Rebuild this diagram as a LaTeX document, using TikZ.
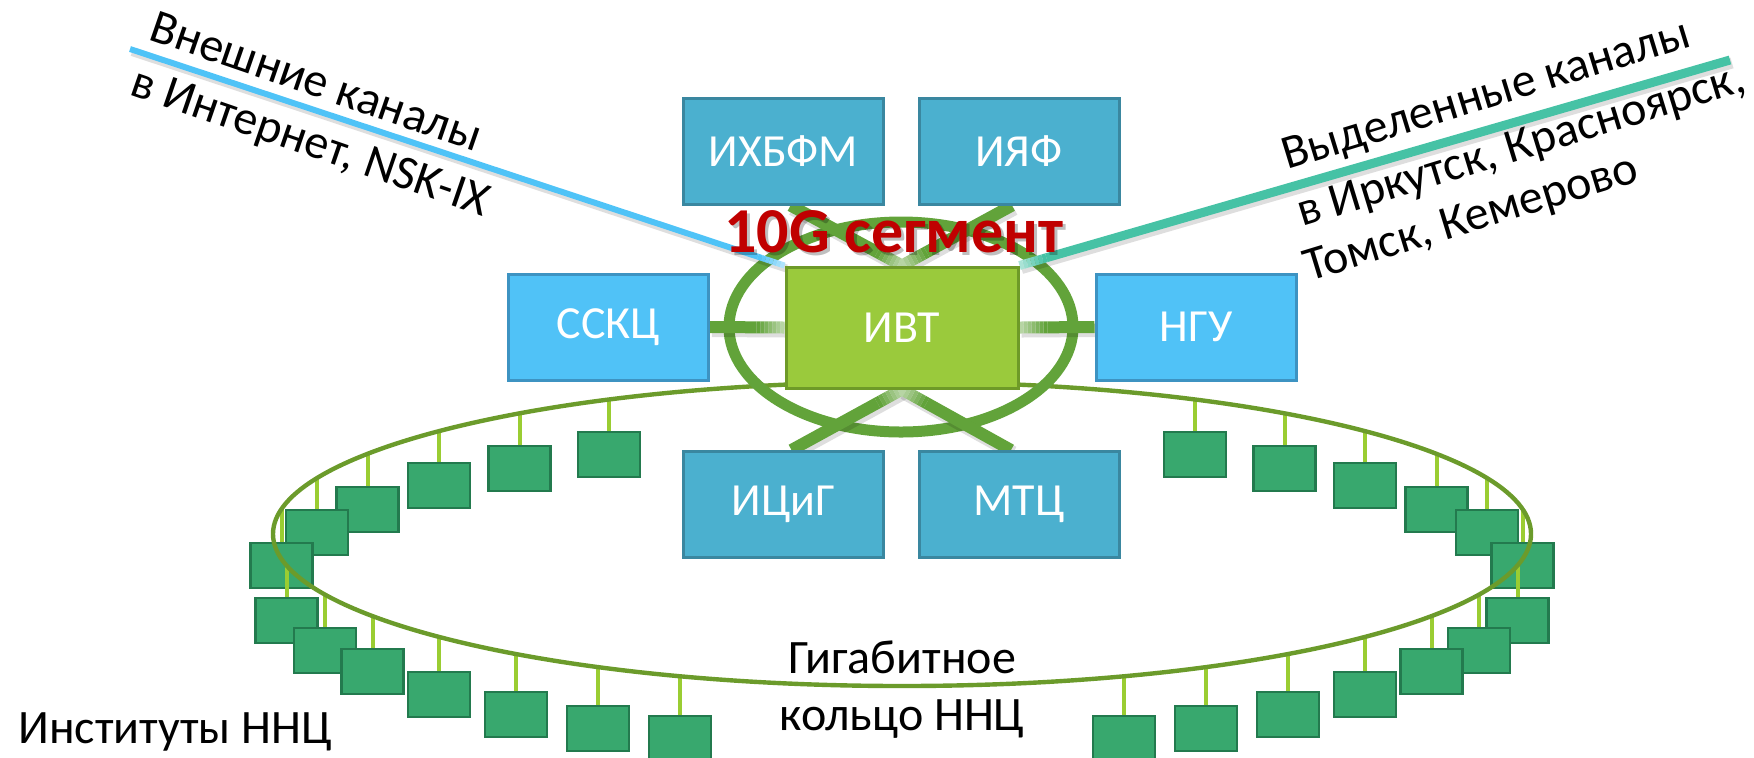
\documentclass[tikz,border=0pt]{standalone}
\usepackage{fontspec}
\setmainfont{Carlito}
\usetikzlibrary{calc}
\definecolor{boxblue}{HTML}{4BB0CF}
\definecolor{boxblueborder}{HTML}{3A87A0}
\definecolor{skyblue}{HTML}{50C2F7}
\definecolor{skyborder}{HTML}{3D93C2}
\definecolor{ivtfill}{HTML}{9ACA3C}
\definecolor{ivtborder}{HTML}{6E9A28}
\definecolor{ringgreen}{HTML}{62A33A}
\definecolor{olivering}{HTML}{6B9B2B}
\definecolor{instfill}{HTML}{38A86E}
\definecolor{instborder}{HTML}{237A4E}
\definecolor{stemgreen}{HTML}{9ACD32}
\definecolor{extblue}{HTML}{4FC3F7}
\definecolor{extteal}{HTML}{46C2A5}
\definecolor{segred}{HTML}{C00000}
\pgfdeclarelayer{back}
\pgfdeclarelayer{mid}
\pgfsetlayers{back,mid,main}
\newcommand{\fadeconn}[4]{%
  \draw[black, opacity=0.13, line width=#4+1pt] ($(#1)+(2,3)$) -- ($(#2)+(2,3)$);
  \draw[#3, line width=#4] (#1) -- ($(#2)!14pt!(#1)$);
  \foreach \k in {0,...,6}{
    \pgfmathsetmacro\da{14*(1-\k/7)}
    \pgfmathsetmacro\db{14*(1-(\k+1)/7)}
    \pgfmathtruncatemacro\mix{100-\k*9}
    \draw[#3!\mix!white, line width=#4] ($(#2)!\da pt!(#1)$) -- ($(#2)!\db pt!(#1)$);
  }
}
\begin{document}
\begin{tikzpicture}[x=0.5pt,y=-0.5pt,
  boxlabel/.style={text=white, font=\fontsize{23}{28}\selectfont},
  bluebox/.style={boxlabel, draw=boxblueborder, fill=boxblue, line width=1.5pt,
    minimum width=100pt, minimum height=53pt, inner sep=0pt},
  skybox/.style={boxlabel, draw=skyborder, fill=skyblue, line width=1.5pt,
    minimum width=100pt, minimum height=53pt, inner sep=0pt},
  ivtbox/.style={boxlabel, draw=ivtborder, fill=ivtfill, line width=1.5pt,
    minimum width=116pt, minimum height=60.5pt, inner sep=0pt},
  inst/.style={draw=instborder, fill=instfill, line width=1.4pt,
    minimum width=31pt, minimum height=22.5pt, inner sep=0pt},
  stem/.style={stemgreen, line width=2pt},
  label/.style={text=black, font=\fontsize{24}{29}\selectfont, inner sep=0pt},
]
\useasboundingbox (0,0) rectangle (1754,757);

% ---------- institutes around the gigabit ring ----------
\begin{pgfonlayer}{back}
\foreach \n/\x/\t in {1/609/432, 2/519.5/446, 3/439/463, 4/367.5/487, 5/317/510, 6/281.5/543,
                      7/286.5/598, 8/325/628, 9/372.5/649, 10/439/672, 11/516/692, 12/598/706, 13/680/716}{
  \pgfmathsetmacro\yc{\t+22.5}
  \pgfmathsetmacro\xr{1804-\x}
  \node[inst] (L\n) at (\x,\yc) {};
  \node[inst] (R\n) at (\xr,\yc) {};
}
\foreach \n/\x/\s in {1/609/-1, 2/519.5/-1, 3/439/-1, 4/367.5/-1, 5/317/-1, 6/281.5/-1,
                      7/286.5/1, 8/325/1, 9/372.5/1, 10/439/1, 11/516/1, 12/598/1, 13/680/1}{
  \pgfmathsetmacro\ye{534+\s*152*sqrt(1-((\x-902)/629)^2)}
  \pgfmathsetmacro\xr{1804-\x}
  \coordinate (eL\n) at (\x,\ye);
  \coordinate (eR\n) at (\xr,\ye);
  \draw[stem] (eL\n) -- (L\n.north);
  \draw[stem] (eR\n) -- (R\n.north);
}
\draw[olivering, line width=2.2pt] (902,534) ellipse [x radius=314.5pt, y radius=76pt];
\end{pgfonlayer}

% ---------- central boxes ----------
\node[ivtbox]  (ivt)    at (902,327.5) {ИВТ};
\node[bluebox] (ichbfm) at (783.5,151) {ИХБФМ};
\node[bluebox] (inp)    at (1019,151)  {ИЯФ};
\node[skybox]  (ssc)    at (608.5,327) {ССКЦ};
\node[skybox]  (ngu)    at (1196,327)  {НГУ};
\node[bluebox] (icig)   at (783.5,504.5) {ИЦиГ};
\node[bluebox] (mtc)    at (1019,504.5)  {МТЦ};

\coordinate (ichbfmend) at ($(ichbfm.south)+(7,0)$);
\coordinate (inpend)    at ($(inp.south)+(-7,0)$);
\coordinate (icigend)   at ($(icig.north)+(8,0)$);
\coordinate (mtcend)    at ($(mtc.north)+(-8,0)$);
\coordinate (extw) at (130,49);
\coordinate (exte) at (1730,60);

\begin{pgfonlayer}{mid}
\draw[ringgreen, line width=5.5pt] (901,327) ellipse [x radius=86pt, y radius=52.5pt];
\fadeconn{ssc.east}{ivt.west}{ringgreen}{6pt}
\fadeconn{ngu.west}{ivt.east}{ringgreen}{6pt}
\fadeconn{ichbfmend}{ivt.north}{ringgreen}{6pt}
\fadeconn{inpend}{ivt.north}{ringgreen}{6pt}
\fadeconn{icigend}{ivt.south}{ringgreen}{6pt}
\fadeconn{mtcend}{ivt.south}{ringgreen}{6pt}
\fadeconn{extw}{ivt.north west}{extblue}{3pt}
\fadeconn{exte}{ivt.north east}{extteal}{4.5pt}
\end{pgfonlayer}

% ---------- texts ----------
\node[anchor=base west, inner sep=0pt, text=black, opacity=0.25,
      font=\fontsize{32}{38}\selectfont\bfseries] at (727,255) {10G сегмент};
\node[anchor=base west, inner sep=0pt, text=segred,
      font=\fontsize{32}{38}\selectfont\bfseries] (seg) at (724,252) {10G сегмент};

\node[label, anchor=base west, rotate=-19] (ext1) at (147,39) {Внешние каналы};
\node[label, anchor=base west, rotate=-19] (ext2) at (128,94) {в Интернет, NSK-IX};

\node[label, anchor=base west, rotate=17] (ded1) at (1287,170) {Выделенные каналы};
\node[label, anchor=base west, rotate=17] (ded2) at (1302,227) {в Иркутск, Красноярск,};
\node[label, anchor=base west, rotate=17] (ded3) at (1309,282) {Томск, Кемерово};

\node[label, anchor=base] (gig1) at (902,673) {Гигабитное};
\node[label, anchor=base] (gig2) at (902,730) {кольцо ННЦ};
\node[label, anchor=base west] (inst) at (18,743) {Институты ННЦ};
\end{tikzpicture}
\end{document}
